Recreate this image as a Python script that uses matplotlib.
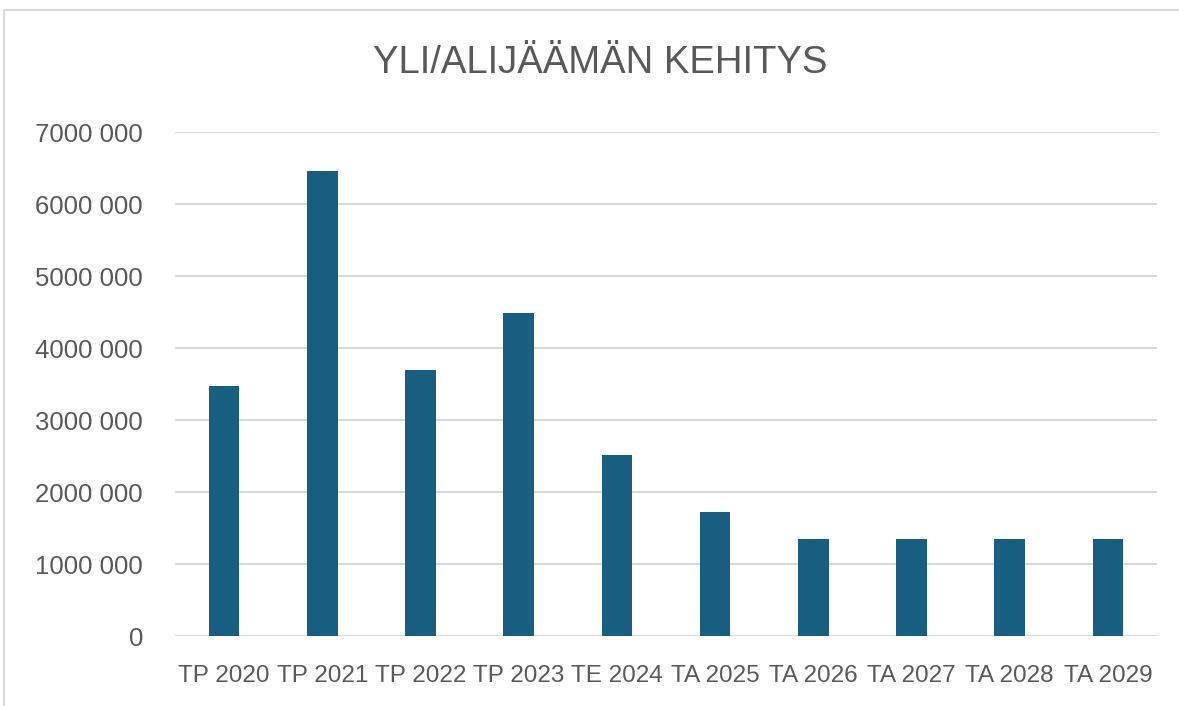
import matplotlib.pyplot as plt
from matplotlib.patches import Rectangle
from matplotlib.ticker import FuncFormatter, MultipleLocator
from matplotlib import font_manager

# data
categories = ["TP 2020", "TP 2021", "TP 2022", "TP 2023", "TE 2024",
              "TA 2025", "TA 2026", "TA 2027", "TA 2028", "TA 2029"]
values = [3470000, 6460000, 3690000, 4490000, 2510000,
          1720000, 1350000, 1350000, 1350000, 1350000]
title = "YLI/ALIJÄÄMÄN KEHITYS"

bar_color = "#175e80"
text_color = "#595959"
grid_color = "#d9d9d9"

names = {f.name for f in font_manager.fontManager.ttflist}
narrow = "Liberation Sans Narrow" if "Liberation Sans Narrow" in names else None

W, H = 1179, 706
fig = plt.figure(figsize=(W / 100, H / 100), dpi=100)
ax = fig.add_axes([175 / W, 1 - 636 / H, (1157 - 175) / W, (636 - 132) / H])

x = range(len(categories))
ax.bar(x, values, width=0.31, color=bar_color, zorder=3)

ax.set_xlim(-0.5, len(categories) - 0.5)
ax.set_ylim(0, 7000000)
ax.yaxis.set_major_locator(MultipleLocator(1000000))

def fmt(v, pos):
    s = f"{int(v):,}".replace(",", " ")
    # thousands in front stay joined, like the reference
    parts = s.split(" ")
    if len(parts) > 2:
        return "".join(parts[:-1]) + " " + parts[-1]
    return s

ax.yaxis.set_major_formatter(FuncFormatter(fmt))
ax.set_xticks(list(x))
ax.set_xticklabels(categories)

ax.grid(axis="y", color=grid_color, linewidth=1.5, zorder=0)
for s in ax.spines.values():
    s.set_visible(False)
ax.tick_params(length=0, colors=text_color, labelsize=17.5)
ax.tick_params(axis="y", pad=23, labelsize=18.5)
ax.tick_params(axis="x", pad=21)
for lab in ax.get_xticklabels() + ax.get_yticklabels():
    lab.set_fontfamily("Liberation Sans")

if narrow:
    fig.text(600 / W, 1 - 63 / H, title, ha="center", va="center",
             fontsize=31, color=text_color, family=narrow)
else:
    fig.text(600 / W, 1 - 63 / H, title, ha="center", va="center",
             fontsize=27.5, color=text_color, family="Liberation Sans")

fig.patches.append(Rectangle((4 / W, -0.1), 1.2, 1 - 10 / H + 0.1,
                             transform=fig.transFigure, fill=False,
                             edgecolor=grid_color, linewidth=1.5))

fig.savefig("out.png", dpi=100)
